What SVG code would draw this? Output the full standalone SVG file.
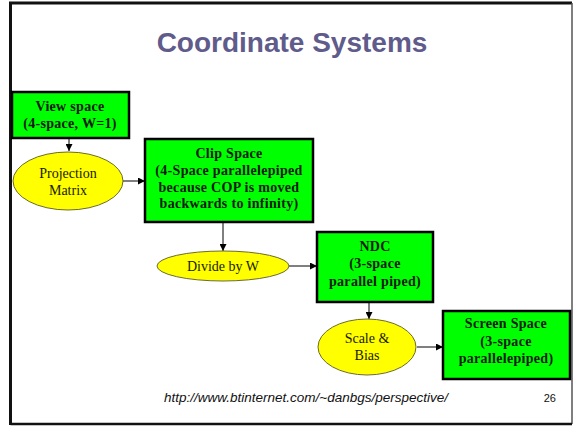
<svg xmlns="http://www.w3.org/2000/svg" width="573" height="426" viewBox="0 0 573 426">
<defs>
<style>
.box{fill:#00ff00;stroke:#000;stroke-width:2.5}
.ell{fill:#ffff00;stroke:#6b6b2a;stroke-width:1}
.bt{font-family:"Liberation Serif","Times New Roman",serif;font-size:14px;font-weight:bold;fill:#0d1a0d;text-anchor:middle;letter-spacing:0.3px}
.et{font-family:"Liberation Serif","Times New Roman",serif;font-size:14px;fill:#1a1a00;text-anchor:middle}
.conn{stroke:#000;stroke-width:1;fill:none;marker-end:url(#ah)}
</style>
<marker id="ah" viewBox="0 0 10 10" refX="10" refY="5" markerWidth="7" markerHeight="7" markerUnits="userSpaceOnUse" orient="auto">
<path d="M0,0 L10,5 L0,10 Z" fill="#000"/>
</marker>
</defs>
<rect x="0" y="0" width="573" height="426" fill="#fff"/>
<g id="frame">
<path d="M10.5,425 L10.5,3 L572,3" fill="none" stroke="#111" stroke-width="3"/>
<path d="M572,3 L572,424" fill="none" stroke="#555" stroke-width="1.5"/>
<path d="M10.5,424 L572,424" fill="none" stroke="#111" stroke-width="2.5"/>
</g>
<text x="292" y="52" font-family="Liberation Sans, Arial, sans-serif" font-size="28" font-weight="bold" fill="#5f5b8b" text-anchor="middle">Coordinate Systems</text>
<g id="connectors">
<line class="conn" x1="69" y1="139" x2="69" y2="151"/>
<line class="conn" x1="123" y1="181" x2="145" y2="181"/>
<line class="conn" x1="223" y1="223" x2="223" y2="251"/>
<line class="conn" x1="289" y1="266" x2="317" y2="266"/>
<line class="conn" x1="369" y1="303" x2="369" y2="319"/>
<line class="conn" x1="417" y1="347" x2="443" y2="347"/>
</g>
<g id="view-space">
<rect class="box" x="12" y="92" width="117" height="46"/>
<text class="bt" x="70" y="111">View space</text>
<text class="bt" x="70" y="128">(4-space, W=1)</text>
</g>
<g id="projection-matrix">
<ellipse class="ell" cx="68" cy="181" rx="55" ry="29"/>
<text class="et" x="68" y="178">Projection</text>
<text class="et" x="68" y="195">Matrix</text>
</g>
<g id="clip-space">
<rect class="box" x="145" y="139" width="168" height="83"/>
<text class="bt" x="229" y="158">Clip Space</text>
<text class="bt" x="229" y="175">(4-Space parallelepiped</text>
<text class="bt" x="229" y="191.5">because COP is moved</text>
<text class="bt" x="229" y="208">backwards to infinity)</text>
</g>
<g id="divide-by-w">
<ellipse class="ell" cx="223" cy="266" rx="66" ry="15"/>
<text class="et" x="223" y="271">Divide by W</text>
</g>
<g id="ndc">
<rect class="box" x="317" y="232" width="116" height="70"/>
<text class="bt" x="375" y="251">NDC</text>
<text class="bt" x="375" y="268">(3-space</text>
<text class="bt" x="375" y="286">parallel piped)</text>
</g>
<g id="scale-bias">
<ellipse class="ell" cx="367" cy="347" rx="49" ry="28"/>
<text class="et" x="367" y="343">Scale &amp;</text>
<text class="et" x="367" y="360">Bias</text>
</g>
<g id="screen-space">
<rect class="box" x="443" y="311" width="127" height="68"/>
<text class="bt" x="506" y="328">Screen Space</text>
<text class="bt" x="506" y="346">(3-space</text>
<text class="bt" x="506" y="363">parallelepiped)</text>
</g>
<text x="448" y="402" font-family="Liberation Sans, Arial, sans-serif" font-size="13.5" font-style="italic" fill="#111" text-anchor="end">http://www.btinternet.com/~danbgs/perspective/</text>
<text x="556" y="402" font-family="Liberation Sans, Arial, sans-serif" font-size="11" fill="#111" text-anchor="end">26</text>
</svg>
